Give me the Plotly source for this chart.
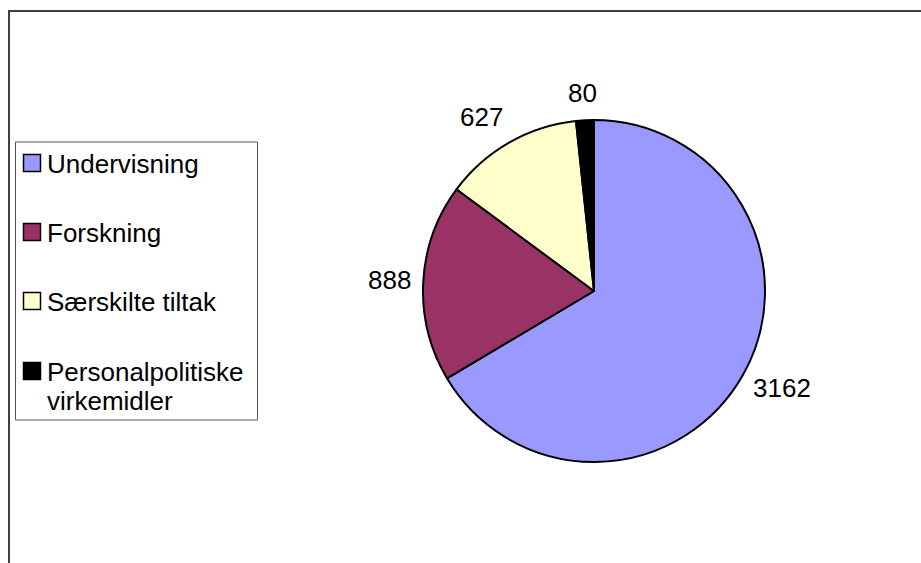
import math
import plotly.graph_objects as go

W, H = 921, 563

labels = ["Undervisning", "Forskning", "Særskilte tiltak", "Personalpolitiske<br>virkemidler"]
values = [3162, 888, 627, 80]
colors = ["#9999FF", "#993366", "#FFFFCC", "#000000"]

FONT = "Liberation Sans, Arial, sans-serif"
LABEL_SIZE = 26
LEGEND_SIZE = 26

# pie geometry in pixels
cx, cy, r = 594, 291, 171

def px_x(x):
    return x / W

def px_y(y):
    return 1 - y / H

fig = go.Figure()
fig.add_trace(go.Pie(
    labels=labels,
    values=values,
    sort=False,
    direction="clockwise",
    rotation=0,
    marker=dict(colors=colors, line=dict(color="#000000", width=2)),
    textinfo="none",
    showlegend=False,
    hoverinfo="label+value",
    domain=dict(x=[px_x(cx - r), px_x(cx + r)], y=[px_y(cy + r), px_y(cy - r)]),
))

shapes = []
annotations = []

# value labels placed outside each slice, at its mid-angle (computed from the values)
total = float(sum(values))
acc = 0.0
gap, hh = 12, 11
for v in values:
    mid = (acc + v / 2.0) / total * 2 * math.pi
    acc += v
    s, c = math.sin(mid), math.cos(mid)
    px = cx + (r + gap) * s
    py = cy - (r + gap) * c
    hw = 0.556 * LABEL_SIZE * len(str(v)) / 2.0
    tx = px + hw * max(-1.0, min(1.0, 2 * s))
    ty = py - hh * max(-1.0, min(1.0, 2 * c)) - 4 * min(1.0, 2 * abs(c))
    annotations.append(dict(xref="paper", yref="paper", x=px_x(tx), y=px_y(ty),
                            xanchor="center", yanchor="middle", showarrow=False,
                            text=str(v),
                            font=dict(family=FONT, size=LABEL_SIZE, color="#000000")))

# outer chart border (extends beyond the visible area on right/bottom)
shapes.append(dict(type="rect", xref="paper", yref="paper",
                   x0=px_x(9), x1=px_x(W + 20), y0=px_y(H + 20), y1=px_y(11),
                   line=dict(color="#404040", width=2), fillcolor="rgba(0,0,0,0)"))

# legend box
shapes.append(dict(type="rect", xref="paper", yref="paper",
                   x0=px_x(15.5), x1=px_x(257.5), y0=px_y(420), y1=px_y(142),
                   line=dict(color="#555555", width=1), fillcolor="#FFFFFF"))

row_mid = [163, 232, 301, 371]
line_gap = 29
for lab, col, ym in zip(labels, colors, row_mid):
    shapes.append(dict(type="rect", xref="paper", yref="paper",
                       x0=px_x(23.5), x1=px_x(40.5), y0=px_y(ym + 8.5), y1=px_y(ym - 8.5),
                       line=dict(color="#000000", width=1.5), fillcolor=col))
    for k, part in enumerate(lab.split("<br>")):
        annotations.append(dict(xref="paper", yref="paper",
                                x=px_x(45), y=px_y(ym + 1 + k * line_gap),
                                xanchor="left", yanchor="middle",
                                text=part, showarrow=False,
                                font=dict(family=FONT, size=LEGEND_SIZE, color="#000000")))

fig.update_layout(
    width=W, height=H,
    margin=dict(l=0, r=0, t=0, b=0),
    paper_bgcolor="#FFFFFF",
    plot_bgcolor="#FFFFFF",
    shapes=shapes,
    annotations=annotations,
    showlegend=False,
)

fig.write_html("out.html")
